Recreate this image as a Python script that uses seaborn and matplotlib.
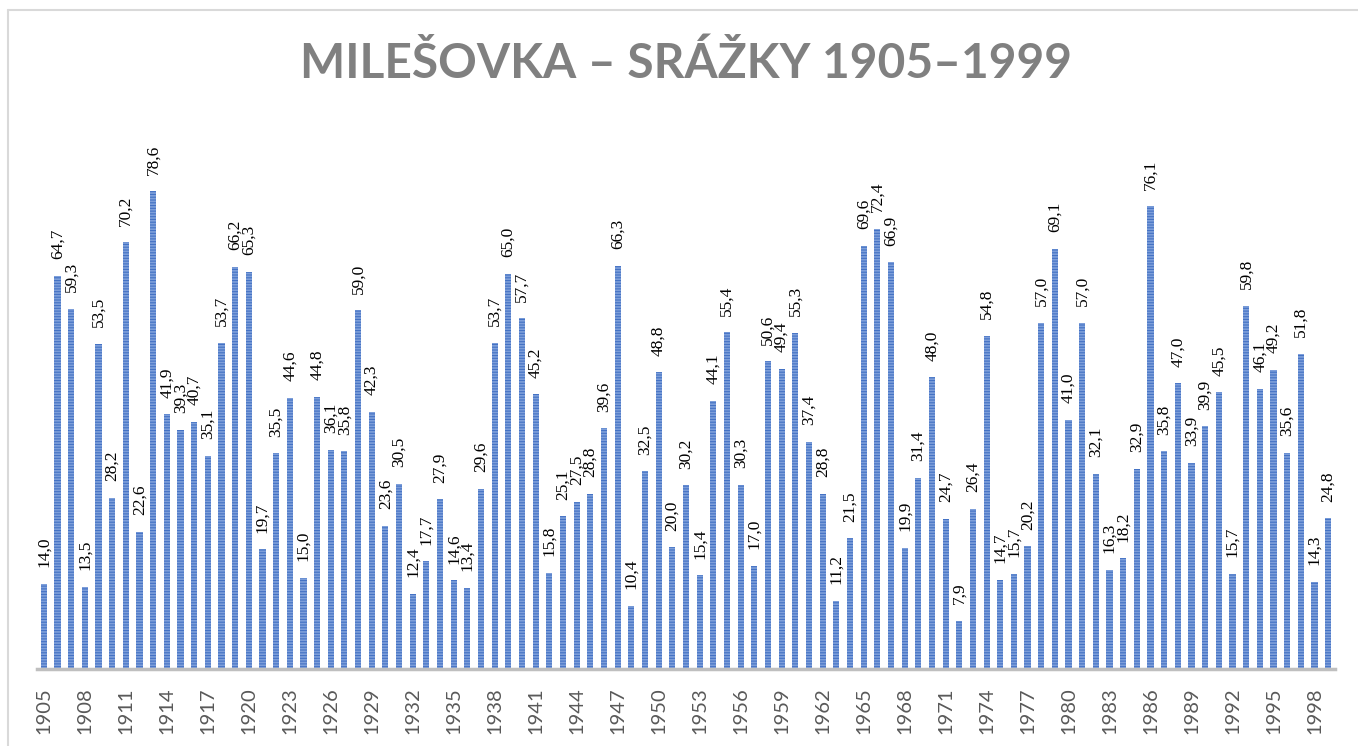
import matplotlib
matplotlib.use("Agg")
import matplotlib.pyplot as plt
import seaborn as sns
import pandas as pd
from matplotlib.lines import Line2D

years = list(range(1905, 2000))
srazky = [14.0, 64.7, 59.3, 13.5, 53.5, 28.2, 70.2, 22.6, 78.6, 41.9,
          39.3, 40.7, 35.1, 53.7, 66.2, 65.3, 19.7, 35.5, 44.6, 15.0,
          44.8, 36.1, 35.8, 59.0, 42.3, 23.6, 30.5, 12.4, 17.7, 27.9,
          14.6, 13.4, 29.6, 53.7, 65.0, 57.7, 45.2, 15.8, 25.1, 27.5,
          28.8, 39.6, 66.3, 10.4, 32.5, 48.8, 20.0, 30.2, 15.4, 44.1,
          55.4, 30.3, 17.0, 50.6, 49.4, 55.3, 37.4, 28.8, 11.2, 21.5,
          69.6, 72.4, 66.9, 19.9, 31.4, 48.0, 24.7, 7.9, 26.4, 54.8,
          14.7, 15.7, 20.2, 57.0, 69.1, 41.0, 57.0, 32.1, 16.3, 18.2,
          32.9, 76.1, 35.8, 47.0, 33.9, 39.9, 45.5, 15.7, 59.8, 46.1,
          49.2, 35.6, 51.8, 14.3, 24.8]

df = pd.DataFrame({"rok": [str(r) for r in years], "srazky": srazky})

sns.set_theme(style="white")
plt.rcParams["hatch.linewidth"] = 1.2

fig = plt.figure(figsize=(13.58, 7.46), dpi=100)
ax = fig.add_axes([0.02725, 0.1032, 0.9558, 0.7333])

sns.barplot(data=df, x="rok", y="srazky", color="#4472C4", width=0.45,
            saturation=1, ax=ax)
for p in ax.patches:
    p.set_edgecolor("#7E9FDA")
    p.set_linewidth(0)
    p.set_hatch("------")

labels = [f"{v:.1f}".replace(".", ",") for v in srazky]
txts = ax.bar_label(ax.containers[0], labels=labels, rotation=90, padding=12,
                    fontsize=12.5, color="black")
for t in txts:
    t.set_fontfamily(["Liberation Serif", "DejaVu Serif"])

ax.set_xlim(-0.5, len(years) - 0.5)
ax.set_ylim(0, 90)
ax.set_xticks(range(0, len(years), 3))
ax.set_xticklabels([str(r) for r in years[::3]], rotation=90,
                   fontsize=14.5, color="#595959", family="Lato")
ax.tick_params(axis="x", length=0, pad=13)
ax.set_yticks([])
ax.set_xlabel("")
ax.set_ylabel("")
for s in ["top", "right", "left"]:
    ax.spines[s].set_visible(False)
ax.spines["bottom"].set_color("#BFBFBF")
ax.spines["bottom"].set_linewidth(2.5)

fig.text(0.505, 0.914, "MILEŠOVKA – SRÁŽKY 1905–1999", ha="center",
         va="center", fontsize=34.5, fontweight="bold", color="#808080",
         family="Lato")

# chart border
fig.add_artist(Line2D([8 / 1358, 1.0], [1 - 10 / 746, 1 - 10 / 746],
                      color="#D9D9D9", lw=1.5, transform=fig.transFigure))
fig.add_artist(Line2D([8 / 1358, 8 / 1358], [0.0, 1 - 10 / 746],
                      color="#D9D9D9", lw=1.5, transform=fig.transFigure))

fig.savefig("out.png", dpi=100)
